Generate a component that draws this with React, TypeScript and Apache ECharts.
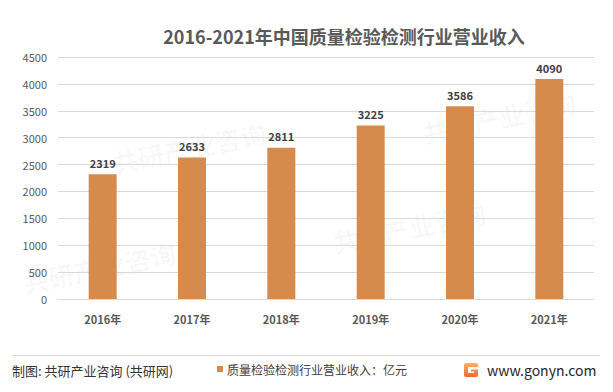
import React, { useEffect, useRef } from "react";
import * as echarts from "echarts";

const categories = ["2016年", "2017年", "2018年", "2019年", "2020年", "2021年"];
const revenue = [2319, 2633, 2811, 3225, 3586, 4090];
const seriesName = "质量检验检测行业营业收入：亿元";
const titleText = "2016-2021年中国质量检验检测行业营业收入";
const sourceText = "制图: 共研产业咨询 (共研网)";
const siteText = "www.gonyn.com";

const FONT = "'Noto Sans CJK SC', 'Noto Sans', sans-serif";

export default function App() {
  const ref = useRef<HTMLDivElement>(null);
  useEffect(() => {
    if (!ref.current) return;
    const chart = echarts.init(ref.current, null, { renderer: "svg" });
    const wm = (x: number, y: number, text: string, size: number) => ({
      type: "text",
      x,
      y,
      rotation: 0.2,
      silent: true,
      z: 0,
      style: {
        text,
        fill: "rgba(0,0,0,0.03)",
        font: `bold ${size}px ${FONT}`,
      },
    });
    chart.setOption({
      animation: false,
      backgroundColor: "#ffffff",
      textStyle: { fontFamily: FONT },
      title: {
        text: titleText,
        left: 339,
        top: 22,
        textAlign: "center",
        textStyle: { fontSize: 18, fontWeight: "bold", color: "#595959", fontFamily: FONT },
      },
      legend: {
        show: true,
        left: 212,
        top: 358,
        itemWidth: 6,
        itemHeight: 6,
        itemGap: 4,
        icon: "rect",
        textStyle: { fontSize: 12, color: "#404040", fontFamily: FONT, padding: [0, 0, 0, -1] },
        data: [seriesName],
      },
      grid: { left: 58, right: 19, top: 57, bottom: 93, containLabel: false },
      xAxis: {
        type: "category",
        data: categories,
        axisLine: { show: true, lineStyle: { color: "#d9d9d9" } },
        axisTick: { show: false },
        axisLabel: { fontSize: 11, color: "#595959", fontWeight: "bold", margin: 14, fontFamily: FONT },
      },
      yAxis: {
        type: "value",
        min: 0,
        max: 4500,
        interval: 500,
        axisLine: { show: false },
        axisTick: { show: false },
        splitLine: { lineStyle: { color: "#d9d9d9" } },
        axisLabel: {
          fontSize: 11,
          color: "#595959",
          margin: 11,
          fontFamily: FONT,
          formatter: (v: number) => String(v),
        },
      },
      series: [
        {
          name: seriesName,
          type: "bar",
          data: revenue,
          barWidth: 28,
          itemStyle: { color: "#D68B4C" },
          label: {
            show: true,
            position: "top",
            distance: 6,
            fontSize: 11,
            fontWeight: "bold",
            color: "#404040",
            fontFamily: FONT,
          },
        },
      ],
      graphic: [
        wm(110, 150, "共研产业咨询", 26),
        wm(330, 230, "共研产业咨询", 26),
        wm(20, 270, "共研产业咨询", 26),
        wm(420, 120, "共研产业咨询", 26),
        {
          type: "rect",
          shape: { x: 4.5, y: 4.5, width: 603, height: 382 },
          style: { fill: "none", stroke: "#d9d9d9", lineWidth: 1 },
          silent: true,
        },
        {
          type: "line",
          shape: { x1: 12, y1: 355.5, x2: 600, y2: 355.5 },
          style: { stroke: "#d9d9d9", lineWidth: 1 },
          silent: true,
        },
        {
          type: "text",
          x: 12,
          y: 370,
          style: {
            text: sourceText,
            font: `13px ${FONT}`,
            fill: "#333333",
            textVerticalAlign: "middle",
          },
        },
        {
          type: "group",
          x: 464,
          y: 363,
          children: [
            {
              type: "rect",
              shape: { x: 0, y: 0, width: 14, height: 14, r: 2 },
              style: {
                fill: new echarts.graphic.LinearGradient(0, 0, 0, 1, [
                  { offset: 0, color: "#f9b06a" },
                  { offset: 1, color: "#f06a2c" },
                ]),
              },
            },
            { type: "rect", shape: { x: 4, y: 4, width: 10, height: 2.5 }, style: { fill: "#ffffff" } },
            { type: "rect", shape: { x: 4, y: 6, width: 3, height: 4 }, style: { fill: "#ffffff" } },
            { type: "rect", shape: { x: 4, y: 8.5, width: 6, height: 1.5 }, style: { fill: "#ffffff" } },
          ],
        },
        {
          type: "text",
          x: 487,
          y: 370,
          style: {
            text: siteText,
            font: `14px ${FONT}`,
            fill: "#262626",
            textVerticalAlign: "middle",
          },
        },
      ],
    });
    return () => chart.dispose();
  }, []);
  return <div ref={ref} style={{ width: 613, height: 392, margin: -8 }} />;
}
